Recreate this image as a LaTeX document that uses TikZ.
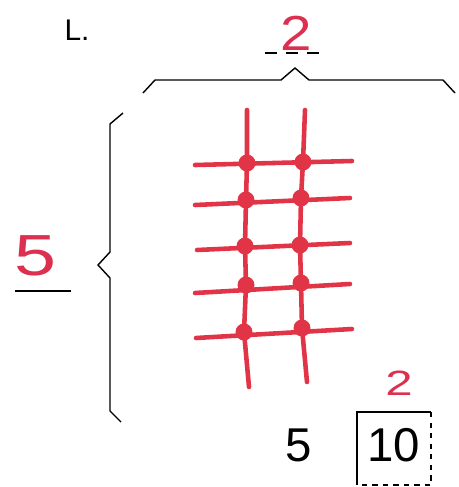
\documentclass[tikz,border=0pt]{standalone}
\usepackage{fontspec}
\setmainfont{Liberation Sans}
\usepackage{xcolor}
\definecolor{gridred}{HTML}{E23447}
\definecolor{inkred}{HTML}{DC3050}
\tikzset{
  gridline/.style={
    draw=gridred,
    line width=2.6pt,
    line cap=round,
    line join=round
  },
  gridknot/.style={
    circle,
    fill=gridred,
    inner sep=0pt,
    minimum size=0.34cm
  },
  bracket/.style={
    draw=black,
    thick,
    line join=miter
  },
  redmark/.style={
    text=inkred,
    inner sep=0pt,
    font=\fontsize{28}{28}\selectfont
  },
  numtext/.style={
    inner sep=0pt,
    font=\fontsize{27}{27}\selectfont
  }
}

\begin{document}
\begin{tikzpicture}[x=0.02cm,y=-0.02cm]
\useasboundingbox (0,0) rectangle (458,487);
% labels
\node[inner sep=0pt, font=\fontsize{17}{17}\selectfont] (title) at (77,30) {L.};
\node[redmark, xscale=1.15] (colcount) at (296,33) {2};
\draw[thick, dash pattern=on 6.8pt off 5.2pt] (265,53) -- (327,53);
\node[redmark, xscale=1.3, font=\fontsize{33}{33}\selectfont] (rowcount) at (35,256) {5};
\draw[thick] (15,291) -- (71,291);
% braces
\draw[bracket] (143,93) -- (155,80) -- (281,80) -- (295,68) -- (309,80) -- (443,80) -- (455,93);
\draw[bracket] (123,113) -- (110,124) -- (110,252) -- (98,265) -- (110,278) -- (110,411) -- (121,422);
% array
\draw[gridline] (247,110) -- (247,163) -- (246,200) -- (245,246) -- (246,285) -- (244,332) -- (249,387);
\draw[gridline] (305,110) -- (303,162) -- (301,198) -- (300,245) -- (301,283) -- (302,328) -- (307,382);
\draw[gridline] (195,165) -- (352,161);
\draw[gridline] (195,205) -- (350,198);
\draw[gridline] (197,250) -- (350,243);
\draw[gridline] (195,293) -- (350,284);
\draw[gridline] (196,338) -- (352,329);
\node[gridknot] (k11) at (247,163) {};
\node[gridknot] (k12) at (303,162) {};
\node[gridknot] (k21) at (246,200) {};
\node[gridknot] (k22) at (301,198) {};
\node[gridknot] (k31) at (245,246) {};
\node[gridknot] (k32) at (300,245) {};
\node[gridknot] (k41) at (246,285) {};
\node[gridknot] (k42) at (301,283) {};
\node[gridknot] (k51) at (244,332) {};
\node[gridknot] (k52) at (302,328) {};
% answer
\node[numtext] (factor) at (299,445) {5};
\node[numtext] (product) at (394,445) {10};
\node[redmark, xscale=1.4, font=\fontsize{20}{20}\selectfont] (carry) at (399,383) {2};
\draw[thick] (357,485) |- (431,412);
\draw[thick, dashed] (431,412) -- (431,485) -- (357,485);
\end{tikzpicture}
\end{document}
